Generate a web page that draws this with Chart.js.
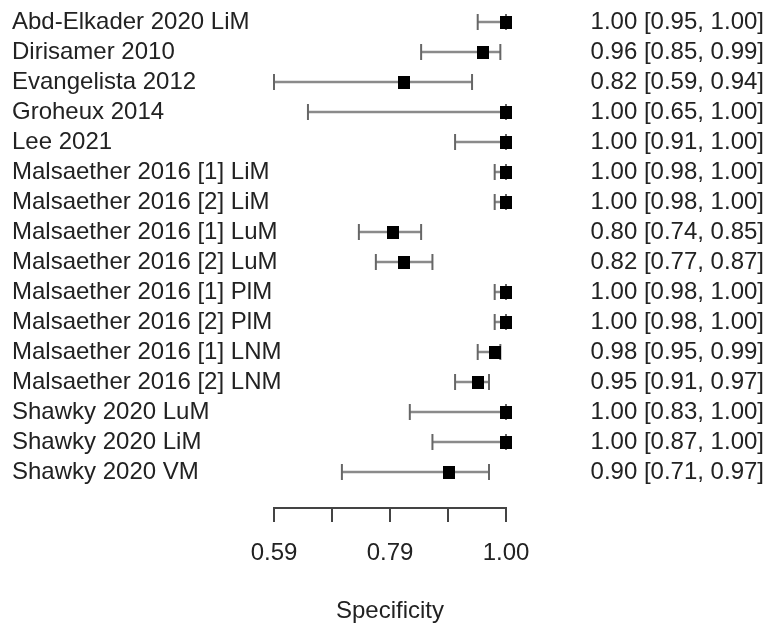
<!DOCTYPE html>
<html>
<head>
<meta charset="utf-8">
<script src="https://cdn.jsdelivr.net/npm/chart.js@4.4.1/dist/chart.umd.min.js"></script>
<style>
  html, body { margin: 0; padding: 0; background: #fff; }
  #wrap { width: 771px; height: 623px; }
</style>
</head>
<body>
<div id="wrap"><canvas id="chart"></canvas></div>
<script>
const studies = [
  'Abd-Elkader 2020 LiM',
  'Dirisamer 2010',
  'Evangelista 2012',
  'Groheux 2014',
  'Lee 2021',
  'Malsaether 2016 [1] LiM',
  'Malsaether 2016 [2] LiM',
  'Malsaether 2016 [1] LuM',
  'Malsaether 2016 [2] LuM',
  'Malsaether 2016 [1] PlM',
  'Malsaether 2016 [2] PlM',
  'Malsaether 2016 [1] LNM',
  'Malsaether 2016 [2] LNM',
  'Shawky 2020 LuM',
  'Shawky 2020 LiM',
  'Shawky 2020 VM',
];
const spec = [1.00, 0.96, 0.82, 1.00, 1.00, 1.00, 1.00, 0.80, 0.82, 1.00, 1.00, 0.98, 0.95, 1.00, 1.00, 0.90];
const lower = [0.95, 0.85, 0.59, 0.65, 0.91, 0.98, 0.98, 0.74, 0.77, 0.98, 0.98, 0.95, 0.91, 0.83, 0.87, 0.71];
const upper = [1.00, 0.99, 0.94, 1.00, 1.00, 1.00, 1.00, 0.85, 0.87, 1.00, 1.00, 0.99, 0.97, 1.00, 1.00, 0.97];

const xTicks = [0.59, 0.6925, 0.795, 0.8975, 1.00];
const xTickLabels = ['0.59', '', '0.79', '', '1.00'];

const FONT = "'Liberation Sans', Arial, Helvetica, sans-serif";
const TEXT = '#222';

const ciText = spec.map((s, i) =>
  `${s.toFixed(2)} [${lower[i].toFixed(2)}, ${upper[i].toFixed(2)}]`);

// black box marker, a bit taller than wide like the original
const box = document.createElement('canvas');
box.width = 12;
box.height = 13;
const bctx = box.getContext('2d');
bctx.fillStyle = '#000';
bctx.fillRect(0, 0, 12, 13);

// draws the confidence interval whiskers under the boxes
const ciPlugin = {
  id: 'ciLines',
  beforeDatasetsDraw(chart) {
    const { ctx, scales: { x, y } } = chart;
    ctx.save();
    studies.forEach((_, i) => {
      const py = y.getPixelForValue(i);
      const x0 = x.getPixelForValue(lower[i]);
      const x1 = x.getPixelForValue(upper[i]);
      ctx.strokeStyle = '#8a8a8a';
      ctx.lineWidth = 2.5;
      ctx.beginPath();
      ctx.moveTo(x0, py);
      ctx.lineTo(x1, py);
      ctx.stroke();
      ctx.strokeStyle = '#666';
      ctx.lineWidth = 2;
      [x0, x1].forEach(px => {
        ctx.beginPath();
        ctx.moveTo(px, py - 8);
        ctx.lineTo(px, py + 8);
        ctx.stroke();
      });
    });
    ctx.restore();
  },
};

// long study names run a little past the axis box, so don't clip them
const noLabelClip = {
  id: 'noLabelClip',
  afterLayout(chart) {
    chart.scales.y._computeLabelArea = () => undefined;
  },
};

const rowTicks = scale => {
  scale.ticks = studies.map((_, i) => ({ value: i }));
};
const rowFit = width => scale => {
  scale.width = width;
  scale.paddingTop = 0;
  scale.paddingBottom = 0;
};

new Chart(document.getElementById('chart'), {
  type: 'scatter',
  plugins: [ciPlugin, noLabelClip],
  data: {
    datasets: [{
      data: spec.map((s, i) => ({ x: s, y: i })),
      pointStyle: box,
      pointRadius: 6,
      pointHoverRadius: 6,
      clip: false,
    }],
  },
  options: {
    responsive: true,
    maintainAspectRatio: false,
    animation: false,
    layout: { padding: { top: 7, left: 12, right: 7, bottom: 0 } },
    plugins: {
      legend: { display: false },
      tooltip: { enabled: false },
    },
    scales: {
      x: {
        type: 'linear',
        min: 0.59,
        max: 1.00,
        afterBuildTicks: scale => {
          scale.ticks = xTicks.map(v => ({ value: v }));
        },
        afterFit: scale => { scale.height = 115; },
        grid: {
          drawOnChartArea: false,
          drawTicks: true,
          tickLength: 14,
          color: '#444',
          lineWidth: 2,
        },
        border: { display: true, color: '#444', width: 2 },
        ticks: {
          autoSkip: false,
          maxRotation: 0,
          padding: 17,
          color: TEXT,
          font: { family: FONT, size: 24 },
          callback: (v, i) => xTickLabels[i],
        },
        title: {
          display: true,
          text: 'Specificity',
          color: TEXT,
          font: { family: FONT, size: 24, lineHeight: 1 },
          padding: { top: 0, bottom: 0 },
        },
      },
      y: {
        type: 'linear',
        position: 'left',
        reverse: true,
        min: -0.5,
        max: 16.2,
        afterBuildTicks: rowTicks,
        afterFit: rowFit(262),
        grid: { display: false },
        border: { display: false },
        ticks: {
          autoSkip: false,
          crossAlign: 'far',
          color: TEXT,
          font: { family: FONT, size: 24 },
          callback: v => studies[v],
        },
      },
      y2: {
        type: 'linear',
        position: 'right',
        reverse: true,
        min: -0.5,
        max: 16.2,
        afterBuildTicks: rowTicks,
        afterFit: rowFit(258),
        grid: { display: false },
        border: { display: false },
        ticks: {
          autoSkip: false,
          crossAlign: 'far',
          color: TEXT,
          font: { family: FONT, size: 24 },
          callback: v => ciText[v],
        },
      },
    },
  },
});
</script>
</body>
</html>
